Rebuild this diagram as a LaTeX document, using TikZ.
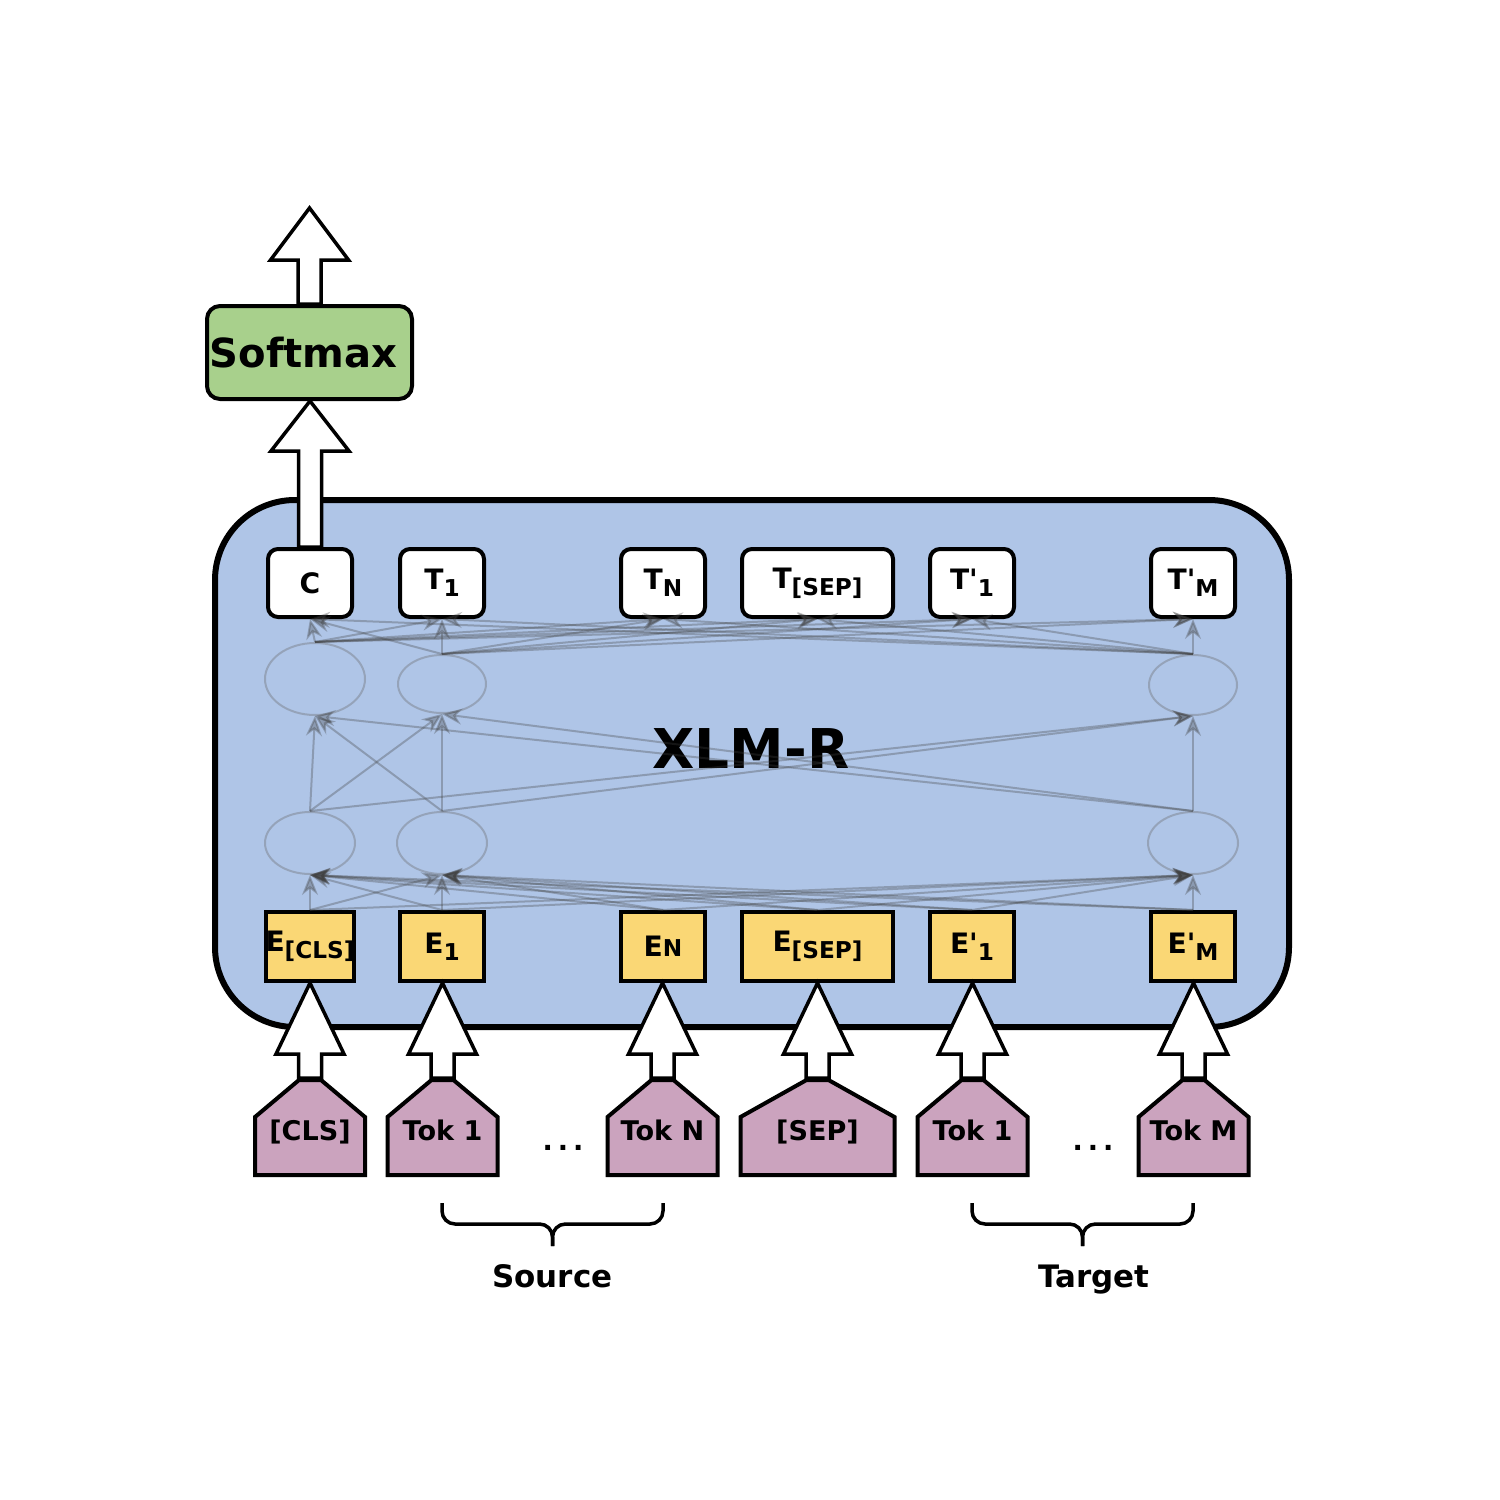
\documentclass[tikz,border=0pt]{standalone}
\usepackage{fontspec}
\setmainfont{DejaVu Sans}
\usetikzlibrary{arrows.meta,shapes.geometric,calc}

\definecolor{xlmblue}{RGB}{175,197,231}
\definecolor{embyellow}{RGB}{250,215,117}
\definecolor{tokpurple}{RGB}{203,163,190}
\definecolor{softgreen}{RGB}{168,208,140}

\newcommand{\lowsub}[1]{\raisebox{-0.45ex}{\fontsize{6.6}{7}\selectfont #1}}
% from, to, head length, head half width
\newcommand{\fatarrow}[4]{%
  \draw[fatarrow] let \p1=(#1), \p2=(#2) in
    (\x1-1.15mm,\y1) -- (\x1-1.15mm,\y2-#3) -- (\x1-#4,\y2-#3) -- (\x1,\y2)
    -- (\x1+#4,\y2-#3) -- (\x1+1.15mm,\y2-#3) -- (\x1+1.15mm,\y1) -- cycle;}
% name, center x, half width, text
\newcommand{\tokbox}[4]{%
  \draw[tokshape] (#2-#3,1175) -- (#2-#3,1117) -- (#2-11,1080) -- (#2+11,1080)
    -- (#2+#3,1117) -- (#2+#3,1175) -- cycle;
  \node[toktext] (#1) at (#2,1140) {#4};
  \coordinate (#1top) at (#2,1078);}

\begin{document}
\begin{tikzpicture}[x=0.1mm,y=-0.1mm,
  outbox/.style={draw,line width=0.4mm,fill=white,rounded corners=1mm,
    minimum height=6.8mm,inner sep=0pt,font=\fontsize{8}{9}\selectfont\bfseries},
  embbox/.style={draw,line width=0.4mm,fill=embyellow,
    minimum height=6.9mm,inner sep=0pt,font=\fontsize{8}{9}\selectfont\bfseries},
  unit/.style={ellipse,draw=black!60,draw opacity=.35,line width=0.2mm,inner sep=0pt},
  link/.style={draw=black!75,opacity=.32,line width=0.2mm,
    -{Stealth[length=2mm,width=1.6mm]}},
  fatarrow/.style={draw,fill=white,line width=0.35mm,line join=miter},
  tokshape/.style={draw,fill=tokpurple,line width=0.4mm,line join=miter},
  toktext/.style={anchor=base,font=\fontsize{7.7}{8}\selectfont\bfseries},
  brace/.style={line width=0.35mm,rounded corners=1.3mm},
  bracelabel/.style={anchor=base,font=\fontsize{8.8}{9}\selectfont\bfseries}]

  \useasboundingbox (0,0) rectangle (1500,1500);

  % model box
  \draw[line width=0.6mm,fill=xlmblue,rounded corners=8mm] (215,500) rectangle (1289,1027);
  \node[font=\fontsize{15.6}{16}\selectfont\bfseries] (xlmr) at (751,749) {XLM-R};

  % output row
  \node[outbox,minimum width=8.4mm] (tC) at (310,583) {C};
  \node[outbox,minimum width=8.4mm] (t1) at (442,583) {T\lowsub{1}};
  \node[outbox,minimum width=8.4mm] (tN) at (663,583) {T\lowsub{N}};
  \node[outbox,minimum width=15.1mm] (tsep) at (817.5,583) {T\lowsub{[SEP]}};
  \node[outbox,minimum width=8.4mm] (tp1) at (972,583) {T\textquotesingle\lowsub{1}};
  \node[outbox,minimum width=8.4mm] (tpM) at (1193,583) {T\textquotesingle\lowsub{M}};

  % hidden units
  \node[unit,minimum width=10mm,minimum height=7.2mm] (u1) at (315,679) {};
  \node[unit,minimum width=8.8mm,minimum height=5.8mm] (u2) at (442,684) {};
  \node[unit,minimum width=8.8mm,minimum height=6mm] (u3) at (1193,685) {};
  \node[unit,minimum width=9mm,minimum height=6.2mm] (l1) at (310,843) {};
  \node[unit,minimum width=9mm,minimum height=6.2mm] (l2) at (442,843) {};
  \node[unit,minimum width=9mm,minimum height=6.2mm] (l3) at (1193,843) {};

  % embedding row
  \node[embbox,minimum width=8.4mm] (eC) at (310,946.5) {E\lowsub{[CLS]}};
  \node[embbox,minimum width=8.4mm] (e1) at (442,946.5) {E\lowsub{1}};
  \node[embbox,minimum width=8.4mm] (eN) at (663,946.5) {E{\fontsize{6.6}{7}\selectfont N}};
  \node[embbox,minimum width=15.1mm] (esep) at (817.5,946.5) {E\lowsub{[SEP]}};
  \node[embbox,minimum width=8.4mm] (ep1) at (972,946.5) {E\textquotesingle\lowsub{1}};
  \node[embbox,minimum width=8.4mm] (epM) at (1193,946.5) {E\textquotesingle\lowsub{M}};

  % attention links
  \foreach \e in {eC,e1,eN,esep,ep1,epM}
    \foreach \h in {l1,l2,l3}
      \draw[link] (\e.north) -- (\h.south);
  \foreach \a in {l1,l2,l3}
    \foreach \b in {u1,u2,u3}
      \draw[link] (\a.north) -- (\b.south);
  \foreach \h in {u1,u2,u3}
    \foreach \t in {tC,t1,tN,tsep,tp1,tpM}
      \draw[link] (\h.north) -- (\t.south);

  % input tokens
  \tokbox{kC}{310}{55}{[CLS]}
  \tokbox{k1}{442.5}{55}{Tok 1}
  \tokbox{kN}{662.5}{55}{Tok N}
  \tokbox{ksep}{817.5}{77}{[SEP]}
  \tokbox{kp1}{972.5}{55}{Tok 1}
  \tokbox{kpM}{1193.5}{55}{Tok M}
  \node[toktext] (dots1) at (563,1150) {.\kern1.4pt.\kern1.4pt.};
  \node[toktext] (dots2) at (1093,1150) {.\kern1.4pt.\kern1.4pt.};

  \fatarrow{kCtop}{eC.south}{7.1mm}{3.4mm}
  \fatarrow{k1top}{e1.south}{7.1mm}{3.4mm}
  \fatarrow{kNtop}{eN.south}{7.1mm}{3.4mm}
  \fatarrow{kseptop}{esep.south}{7.1mm}{3.4mm}
  \fatarrow{kp1top}{ep1.south}{7.1mm}{3.4mm}
  \fatarrow{kpMtop}{epM.south}{7.1mm}{3.4mm}

  % classifier
  \node[draw,line width=0.4mm,fill=softgreen,rounded corners=1.3mm,minimum width=20.5mm,
    minimum height=9.3mm,inner sep=0pt,font=\fontsize{11.4}{12}\selectfont\bfseries]
    (soft) at (309.5,352.5) {Softmax\kern1.2mm};
  \coordinate (out) at (310,208);
  \fatarrow{tC.north}{soft.south}{5mm}{3.9mm}
  \fatarrow{soft.north}{out}{5.2mm}{3.9mm}

  % braces
  \draw[brace] (442,1203) |- (552.5,1224) -- (552.5,1246);
  \draw[brace] (663,1203) |- (552.5,1224) -- (552.5,1246);
  \draw[brace] (972,1203) |- (1082.5,1224) -- (1082.5,1246);
  \draw[brace] (1193,1203) |- (1082.5,1224) -- (1082.5,1246);
  \node[bracelabel] (src) at (552.5,1287) {Source};
  \node[bracelabel] (tgt) at (1094,1287) {Target};
\end{tikzpicture}
\end{document}
